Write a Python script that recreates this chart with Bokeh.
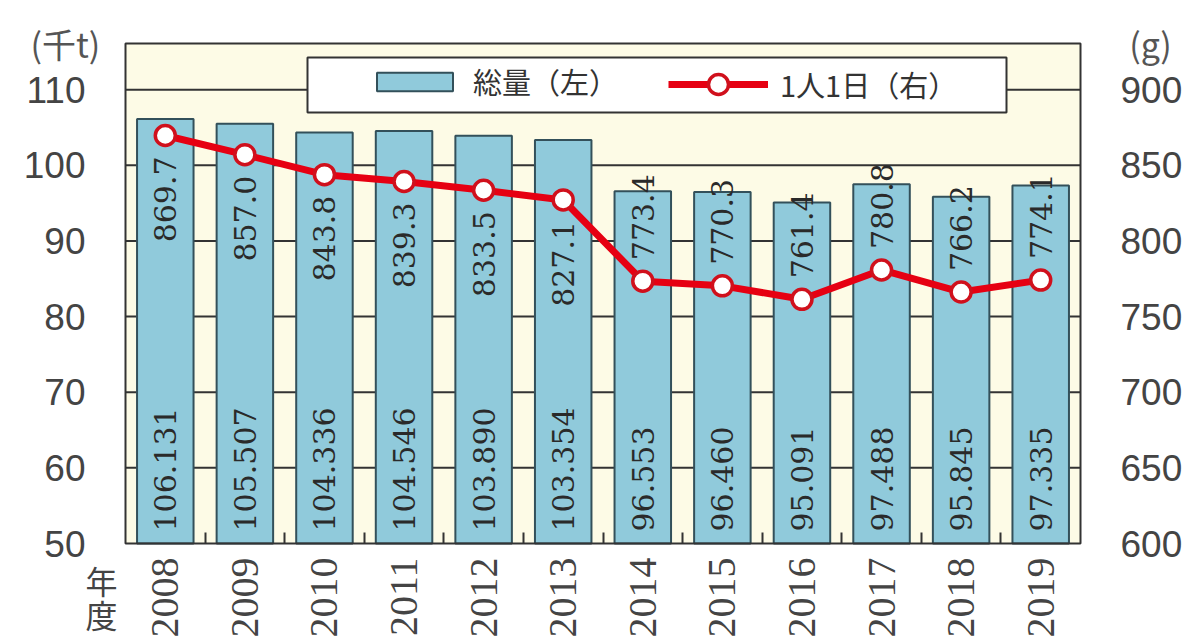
import math
from bokeh.plotting import figure
from bokeh.models import (ColumnDataSource, Range1d, LinearAxis, FixedTicker,
                          Legend, LegendItem, BoxAnnotation, Label)
from bokeh.core.properties import value
from bokeh.embed import file_html
from bokeh.resources import INLINE

# ---------------- data ----------------
years = ["2008", "2009", "2010", "2011", "2012", "2013",
         "2014", "2015", "2016", "2017", "2018", "2019"]
total_kt = [106.131, 105.507, 104.336, 104.546, 103.890, 103.354,
            96.553, 96.460, 95.091, 97.488, 95.845, 97.335]
per_capita_g = [869.7, 857.0, 843.8, 839.3, 833.5, 827.1,
                773.4, 770.3, 761.4, 780.8, 766.2, 774.1]
left_ticks = [50, 60, 70, 80, 90, 100, 110]
right_ticks = [600, 650, 700, 750, 800, 850, 900]
left_unit = "(千t)"
right_unit = "(g)"
year_caption = ["年", "度"]
legend_labels = ["総量（左）", "1人1日（右）"]

# ---------------- layout ----------------
W, H = 1203, 640
PL, PR, PT, PB = 125, 1080, 43, 543      # plotting box in canvas px
n = len(years)
x_lo, x_hi = -0.5, n - 0.5
y_lo, y_hi = 50, 116.1
r_lo, r_hi = 600, 930.5

ux = (x_hi - x_lo) / (PR - PL)
uy = (y_hi - y_lo) / (PB - PT)
ur = (r_hi - r_lo) / (PB - PT)
xs, xe = x_lo - PL * ux, x_hi + (W - PR) * ux
ys, ye = y_lo - (H - PB) * uy, y_hi + PT * uy
rs, re = r_lo - (H - PB) * ur, r_hi + PT * ur

def X(px):
    return xs + px * ux

def Y(py):
    return ye - py * uy

idx = list(range(n))
gap = 21 * ur
lab_y = [v - gap if v > 800 else v + gap for v in per_capita_g]
lab_align = ["right" if v > 800 else "left" for v in per_capita_g]

src = ColumnDataSource(dict(
    x=idx, total=total_kt, per=per_capita_g,
    total_txt=[f"{v:.3f}" for v in total_kt],
    per_txt=[f"{v:.1f}" for v in per_capita_g],
    lab_y=lab_y, lab_align=lab_align,
    base_y=[left_ticks[0] + 12 * uy] * n,
))

p = figure(width=W, height=H, output_backend="svg", toolbar_location=None,
           x_range=Range1d(xs, xe), y_range=Range1d(ys, ye),
           min_border_left=0, min_border_right=0,
           min_border_top=0, min_border_bottom=0)
p.extra_y_ranges = {"r": Range1d(rs, re)}
p.background_fill_color = "white"
p.border_fill_color = "white"
p.outline_line_color = None
p.xgrid.visible = False
p.ygrid.visible = False

# plotting area background and grid
p.quad(left=[x_lo], right=[x_hi], bottom=[y_lo], top=[y_hi],
       fill_color="#fdfbe6", line_color=None, level="underlay")
grid_y = left_ticks[1:]
p.segment(x0=[x_lo] * len(grid_y), x1=[x_hi] * len(grid_y), y0=grid_y, y1=grid_y,
          line_color="#333333", line_width=2, level="underlay")

# axes (fixed at the plotting box edges)
tick_font = "Liberation Sans"
xa = p.xaxis[0]
xa.fixed_location = y_lo
xa.bounds = (x_lo, x_hi)
xa.ticker = FixedTicker(ticks=idx, minor_ticks=[i + 0.5 for i in idx[:-1]])
xa.major_label_overrides = {i: y for i, y in enumerate(years)}
xa.major_label_orientation = math.pi / 2
xa.major_tick_in = 0
xa.major_tick_out = 0
xa.minor_tick_in = 11
xa.minor_tick_out = 0
xa.minor_tick_line_color = "#333333"
xa.minor_tick_line_width = 2
xa.axis_line_color = None
xa.major_label_standoff = 14
xa.major_label_text_font = "Liberation Serif"
xa.major_label_text_font_size = "40px"
xa.major_label_text_color = "#444444"

ya = p.yaxis[0]
ya.fixed_location = x_lo
ya.bounds = (y_lo, y_hi)
ya.ticker = FixedTicker(ticks=left_ticks)
ya.major_tick_in = 0
ya.major_tick_out = 0
ya.minor_tick_line_color = None
ya.axis_line_color = None
ya.major_label_standoff = 40
ya.major_label_text_font = tick_font
ya.major_label_text_font_size = "37px"
ya.major_label_text_color = "#444444"

ra = LinearAxis(y_range_name="r", ticker=FixedTicker(ticks=right_ticks))
ra.fixed_location = x_hi
ra.bounds = (r_lo, r_hi)
ra.major_tick_in = 0
ra.major_tick_out = 0
ra.minor_tick_line_color = None
ra.axis_line_color = None
ra.major_label_standoff = 40
ra.major_label_text_font = tick_font
ra.major_label_text_font_size = "37px"
ra.major_label_text_color = "#444444"
p.add_layout(ra, "right")

# bars
bars = p.vbar(x="x", top="total", bottom=left_ticks[0], width=0.71, source=src,
              fill_color="#90cadb", line_color="#33505a", line_width=2)

# outline of the plotting box
p.quad(left=[x_lo], right=[x_hi], bottom=[y_lo], top=[y_hi],
       fill_color=None, line_color="#333333", line_width=2)

# line + markers
line = p.line(x="x", y="per", source=src, y_range_name="r",
              line_color="#e60012", line_width=7)
marks = p.scatter(x="x", y="per", source=src, y_range_name="r", size=20,
                  fill_color="white", line_color="#d0101c", line_width=3.5)

# value labels
lab_font = value("DejaVu Serif")
p.text(x="x", y="base_y", text="total_txt", source=src, angle=math.pi / 2,
       text_align="left", text_baseline="middle",
       text_font=lab_font, text_font_size="30px", text_color="#2a2a2a")
p.text(x="x", y="lab_y", text="per_txt", source=src, y_range_name="r",
       angle=math.pi / 2, text_align="lab_align", text_baseline="middle",
       text_font=lab_font, text_font_size="30px", text_color="#2a2a2a")

# legend box
box = BoxAnnotation(left=X(307), right=X(1006), top=Y(57), bottom=Y(112),
                    fill_color="white", fill_alpha=1.0,
                    line_color="#333333", line_width=2, line_alpha=1.0)
p.add_layout(box)

leg_font = "Noto Sans CJK JP"
leg1 = Legend(items=[LegendItem(label=legend_labels[0], renderers=[bars])],
              location=(367, H - 102), orientation="horizontal",
              glyph_width=95, glyph_height=23, label_standoff=11,
              padding=0, margin=0, background_fill_alpha=0, border_line_alpha=0,
              label_text_font=leg_font, label_text_font_size="29px",
              label_text_color="#333333")
leg2 = Legend(items=[LegendItem(label=legend_labels[1], renderers=[line, marks])],
              location=(668, H - 109), orientation="horizontal",
              glyph_width=100, glyph_height=50, label_standoff=12,
              padding=0, margin=0, background_fill_alpha=0, border_line_alpha=0,
              label_text_font=leg_font, label_text_font_size="29px",
              label_text_color="#333333")
p.add_layout(leg1)
p.add_layout(leg2)

# unit captions and 年度
cap_font = "Noto Sans CJK JP"
p.add_layout(Label(x=30, y=H - 43, x_units="screen", y_units="screen",
                   text=left_unit, text_align="left", text_baseline="middle",
                   text_font=cap_font, text_font_size="34px", text_color="#555555"))
p.add_layout(Label(x=1150, y=H - 43, x_units="screen", y_units="screen",
                   text=right_unit, text_align="center", text_baseline="middle",
                   text_font=cap_font, text_font_size="34px", text_color="#555555"))
for k, ch in enumerate(year_caption):
    p.add_layout(Label(x=101, y=H - (579 + 34 * k), x_units="screen", y_units="screen",
                       text=ch, text_align="center", text_baseline="middle",
                       text_font=cap_font, text_font_size="32px", text_color="#444444"))

open("out.html", "w").write(file_html(p, INLINE))
